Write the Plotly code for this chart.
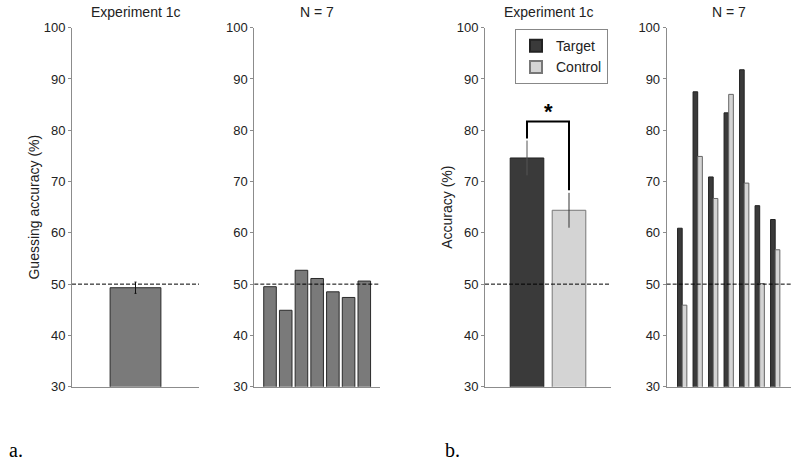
import plotly.graph_objects as go

# ---------------- data ----------------
guess_mean = [49.3]
guess_err = [1.1]
guess_subjects = [1, 2, 3, 4, 5, 6, 7]
guess_subject_vals = [49.5, 44.9, 52.7, 51.1, 48.5, 47.4, 50.6]

cond_names = ["Target", "Control"]
acc_mean = [74.6, 64.4]
acc_err = [3.4, 3.4]

acc_subjects = [1, 2, 3, 4, 5, 6, 7]
acc_target = [60.9, 87.5, 70.9, 83.4, 91.8, 65.3, 62.6]
acc_control = [45.9, 74.9, 66.7, 87.0, 69.7, 50.1, 56.7]

chance_level = 50
sig_bracket_x = [1, 1, 2, 2]
sig_bracket_y = [78.4, 81.7, 81.7, 68.3]

yticks = [30, 40, 50, 60, 70, 80, 90, 100]

# ---------------- styling ----------------
FONT = "Liberation Sans, Arial, sans-serif"
GUESS_FILL = "#7a7a7a"
TARGET_FILL = "#3a3a3a"
CONTROL_FILL = "#d4d4d4"
AX = "#8c8c8c"

fig = go.Figure()

# panel a1
fig.add_trace(go.Bar(x=[1], y=guess_mean, width=0.8, base=0,
                     marker=dict(color=GUESS_FILL, line=dict(color="#2a2a2a", width=1)),
                     error_y=dict(type="data", array=guess_err, color="#111", thickness=1, width=1),
                     showlegend=False, xaxis="x", yaxis="y"))
# panel a2
fig.add_trace(go.Bar(x=guess_subjects, y=guess_subject_vals, width=0.8,
                     marker=dict(color=GUESS_FILL, line=dict(color="#2a2a2a", width=1)),
                     showlegend=False, xaxis="x2", yaxis="y2"))
# panel b1
fig.add_trace(go.Bar(x=[1], y=[acc_mean[0]], width=0.8, name=cond_names[0],
                     marker=dict(color=TARGET_FILL, line=dict(color="#222", width=1)),
                     error_y=dict(type="data", array=[acc_err[0]], color="#555", thickness=1, width=0),
                     xaxis="x3", yaxis="y3"))
fig.add_trace(go.Bar(x=[2], y=[acc_mean[1]], width=0.8, name=cond_names[1],
                     marker=dict(color=CONTROL_FILL, line=dict(color="#777", width=1)),
                     error_y=dict(type="data", array=[acc_err[1]], color="#333", thickness=1, width=0),
                     xaxis="x3", yaxis="y3"))
fig.add_trace(go.Scatter(x=sig_bracket_x, y=sig_bracket_y, mode="lines",
                         line=dict(color="black", width=2), showlegend=False,
                         hoverinfo="skip", xaxis="x3", yaxis="y3"))
# panel b2
fig.add_trace(go.Bar(x=acc_subjects, y=acc_target, width=0.3, offset=-0.3,
                     marker=dict(color=TARGET_FILL, line=dict(color="#222", width=1)),
                     showlegend=False, xaxis="x4", yaxis="y4"))
fig.add_trace(go.Bar(x=acc_subjects, y=acc_control, width=0.3, offset=0,
                     marker=dict(color=CONTROL_FILL, line=dict(color="#666", width=1)),
                     showlegend=False, xaxis="x4", yaxis="y4"))

ydom = [1 - 386.7 / 463, 1 - 27.7 / 463]
xdoms = [[72 / 800, 199 / 800], [254.3 / 800, 380 / 800],
         [485 / 800, 611 / 800], [666.7 / 800, 790.7 / 800]]
xranges = [[0, 2], [0, 8], [0, 3], [0, 8]]
ytitles = ["Guessing accuracy (%)", "", "Accuracy (%)", ""]

layout = dict(
    width=800, height=463,
    margin=dict(l=0, r=0, t=0, b=0, autoexpand=False),
    paper_bgcolor="white", plot_bgcolor="white",
    barmode="overlay",
    font=dict(family=FONT, size=13, color="#222"),
    legend=dict(x=0.76, xanchor="right", y=0.937, yanchor="top",
                bgcolor="white", bordercolor="#888", borderwidth=1,
                font=dict(size=14, color="#222"), tracegroupgap=0,
                itemwidth=30, itemsizing="constant"),
)
for i in range(4):
    sx = "" if i == 0 else str(i + 1)
    layout["xaxis" + sx] = dict(domain=xdoms[i], range=xranges[i], anchor="y" + sx,
                                showticklabels=False, ticks="", showgrid=False,
                                zeroline=False, showline=True, linecolor=AX, linewidth=1,
                                fixedrange=True, automargin=False)
    layout["yaxis" + sx] = dict(domain=ydom, range=[30, 100], anchor="x" + sx,
                                tickvals=yticks, ticks="outside", ticklen=3, tickcolor=AX,
                                showgrid=False, zeroline=False, showline=True,
                                linecolor=AX, linewidth=1, automargin=False,
                                tickfont=dict(size=13, color="#222"),
                                title=dict(text=ytitles[i], font=dict(size=14, color="#222"),
                                           standoff=0))
fig.update_layout(**layout)

# dashed chance lines
for i in range(4):
    sx = "" if i == 0 else str(i + 1)
    fig.add_shape(type="line", xref="x" + sx + " domain", yref="y" + sx,
                  x0=0, x1=1, y0=chance_level, y1=chance_level,
                  line=dict(color="black", width=1, dash="4px,2px"), layer="above")

# panel titles
titles = ["Experiment 1c", "N = 7", "Experiment 1c", "N = 7"]
for i, t in enumerate(titles):
    cx = (xdoms[i][0] + xdoms[i][1]) / 2
    fig.add_annotation(text=t, x=cx, y=1 - 11.7 / 463, xref="paper", yref="paper",
                       showarrow=False, font=dict(size=14, color="#222"),
                       xanchor="center", yanchor="middle")

# significance star
fig.add_annotation(text="<b>*</b>", x=1.5, y=83.6, xref="x3", yref="y3",
                   showarrow=False, font=dict(size=22, color="black"),
                   xanchor="center", yanchor="middle")

# panel letters
for lab, px in [("a.", 7), ("b.", 443)]:
    fig.add_annotation(text=lab, x=px / 800, y=1 - 450 / 463, xref="paper", yref="paper",
                       showarrow=False, xanchor="left", yanchor="middle",
                       font=dict(family="Liberation Serif, Times New Roman, serif",
                                 size=20, color="black"))

fig.write_html("out.html", config={"displayModeBar": False},
               post_script="document.body.style.margin='0px';document.body.style.overflow='hidden';")
